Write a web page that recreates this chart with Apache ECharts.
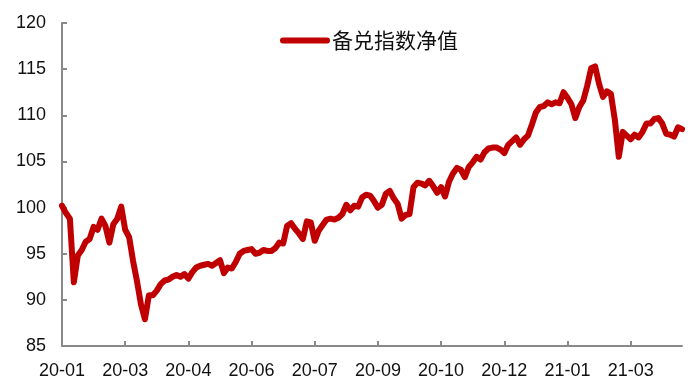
<!DOCTYPE html>
<html>
<head>
<meta charset="utf-8">
<script src="https://cdn.jsdelivr.net/npm/echarts@6/dist/echarts.min.js"></script>
<style>html,body{margin:0;padding:0;background:#fff;}#c{width:700px;height:383px;}</style>
</head>
<body>
<div id="c"></div>
<script>
const seriesName = '备兑指数净值';
const tickLabels = ['20-01','20-03','20-04','20-06','20-07','20-09','20-10','20-12','21-01','21-03'];
const pointsPerTick = 16;
const values = [
100.2,99.4,98.8,91.9,94.8,95.4,96.3,96.6,97.9,97.6,
98.8,98.0,96.2,98.2,98.8,100.1,97.6,96.8,94.2,92.0,
89.5,87.9,90.5,90.5,91.0,91.7,92.1,92.2,92.5,92.7,
92.5,92.8,92.3,93.0,93.5,93.7,93.8,93.9,93.7,94.0,
94.3,92.9,93.5,93.4,94.1,95.0,95.3,95.4,95.5,95.0,
95.1,95.4,95.3,95.3,95.6,96.2,96.1,98.0,98.3,97.7,
97.2,96.6,98.5,98.4,96.4,97.5,98.1,98.7,98.8,98.7,
98.9,99.3,100.3,99.7,100.2,100.1,101.1,101.4,101.3,100.7,
100.0,100.3,101.5,101.8,101.0,100.4,98.8,99.2,99.3,102.2,
102.7,102.6,102.4,102.9,102.3,101.6,102.2,101.2,102.8,103.7,
104.3,104.1,103.3,104.4,104.9,105.5,105.2,106.0,106.4,106.5,
106.5,106.3,105.9,106.8,107.2,107.6,106.8,107.4,107.8,109.0,
110.3,110.9,111.0,111.4,111.2,111.4,111.3,112.5,111.9,111.2,
109.7,110.9,111.6,113.2,115.1,115.3,113.4,112.0,112.6,112.3,
109.5,105.5,108.2,107.8,107.4,107.9,107.6,108.2,109.1,109.1,
109.6,109.7,109.1,108.0,107.9,107.7,108.7,108.5
];
const categories = values.map((v, i) => String(i));

const chart = echarts.init(document.getElementById('c'), null, {renderer: 'canvas'});
const axisGray = '#898989';
chart.setOption({
  animation: false,
  backgroundColor: '#ffffff',
  grid: {left: 62, right: 18, top: 23, bottom: 37, containLabel: false, outerBoundsMode: 'none'},
  legend: {
    data: [seriesName],
    left: 275, top: 25,
    itemWidth: 50, itemHeight: 6, itemGap: 10,
    icon: 'path://M3,0 H47 A3,3 0 0 1 47,6 H3 A3,3 0 0 1 3,0 Z',
    textStyle: {fontFamily: '"Noto Sans CJK SC", sans-serif', fontSize: 21, color: '#111', padding: [0,0,0,-3]}
  },
  xAxis: {
    type: 'category',
    data: categories,
    boundaryGap: false,
    axisLine: {lineStyle: {color: axisGray, width: 2}},
    axisTick: {show: true, inside: true, length: 5, interval: pointsPerTick - 1, lineStyle: {color: axisGray, width: 2}},
    axisLabel: {
      interval: pointsPerTick - 1,
      margin: 16,
      fontFamily: 'Liberation Sans, Arial, sans-serif',
      fontSize: 18,
      color: '#111',
      formatter: (v, idx) => tickLabels[Math.round(idx / pointsPerTick)] || ''
    },
    splitLine: {show: false}
  },
  yAxis: {
    type: 'value',
    min: 85, max: 120, interval: 5,
    axisLine: {show: true, lineStyle: {color: axisGray, width: 2}},
    axisTick: {show: true, inside: true, length: 5, lineStyle: {color: axisGray, width: 2}},
    axisLabel: {margin: 16, fontFamily: 'Liberation Sans, Arial, sans-serif', fontSize: 18, color: '#111'},
    splitLine: {show: false}
  },
  series: [{
    name: seriesName,
    type: 'line',
    data: values,
    showSymbol: false,
    symbol: 'none',
    lineStyle: {color: '#C00000', width: 6, join: 'round', cap: 'round'},
    itemStyle: {color: '#C00000'}
  }]
});
</script>
</body>
</html>
